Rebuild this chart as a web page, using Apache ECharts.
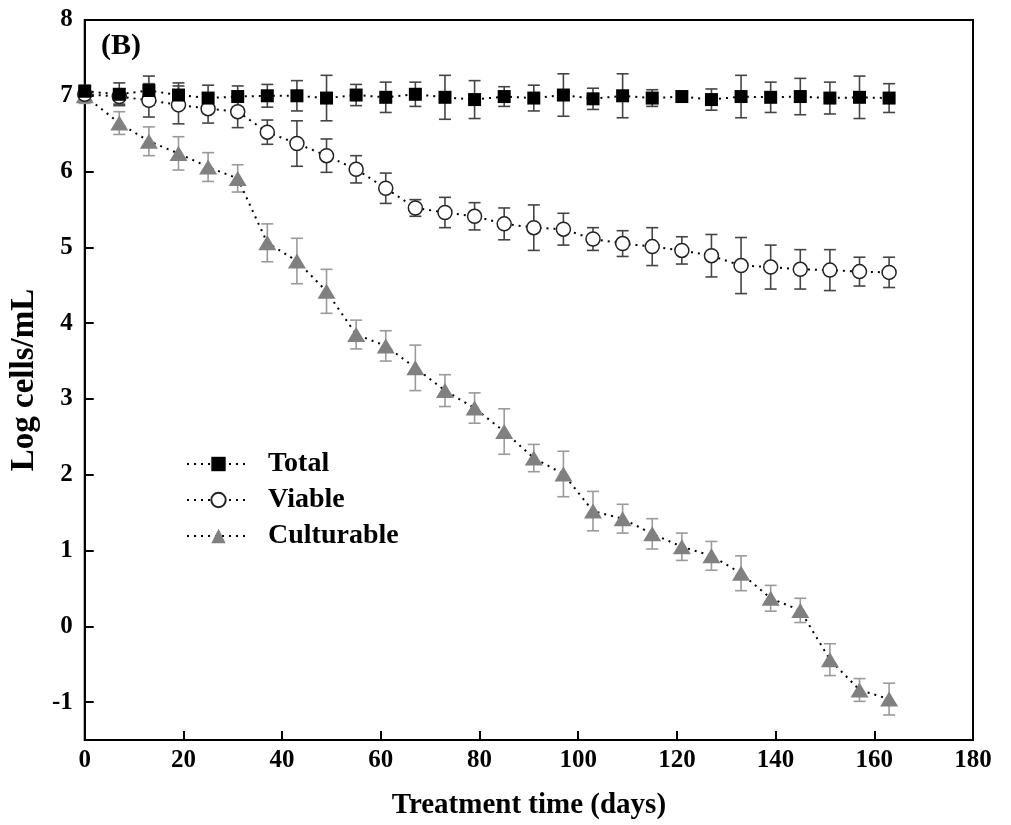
<!DOCTYPE html>
<html>
<head>
<meta charset="utf-8">
<script src="https://cdn.jsdelivr.net/npm/echarts@6/dist/echarts.min.js"></script>
<style>html,body{margin:0;padding:0;background:#fff}#c{width:1011px;height:825px}</style>
</head>
<body>
<div id="c"></div>
<script>
const days = [0,7,13,19,25,31,37,43,49,55,61,67,73,79,85,91,97,103,109,115,121,127,133,139,145,151,157,163];
const total = [7.06,7.02,7.07,7.01,6.97,6.99,7.00,7.00,6.97,7.01,6.98,7.02,6.98,6.95,6.99,6.97,7.01,6.96,7.00,6.97,6.99,6.95,6.99,6.98,6.99,6.97,6.98,6.97];
const totalErr = [0.08,0.15,0.19,0.16,0.17,0.14,0.15,0.20,0.30,0.14,0.20,0.16,0.29,0.25,0.13,0.17,0.28,0.14,0.29,0.11,0.07,0.14,0.28,0.20,0.24,0.21,0.28,0.19];
const viable = [7.02,6.99,6.94,6.88,6.83,6.79,6.52,6.37,6.21,6.03,5.78,5.52,5.46,5.41,5.31,5.26,5.24,5.11,5.05,5.01,4.96,4.89,4.76,4.74,4.71,4.70,4.68,4.67];
const viableErr = [0.08,0.10,0.22,0.25,0.19,0.21,0.16,0.30,0.22,0.18,0.20,0.11,0.20,0.18,0.21,0.30,0.21,0.15,0.17,0.25,0.18,0.28,0.37,0.29,0.26,0.27,0.19,0.20];
const cult = [7.00,6.64,6.40,6.24,6.06,5.91,5.06,4.82,4.42,3.85,3.70,3.41,3.11,2.88,2.57,2.22,2.01,1.52,1.42,1.22,1.05,0.93,0.70,0.37,0.21,-0.44,-0.84,-0.96];
const cultErr = [0.10,0.15,0.19,0.22,0.19,0.18,0.25,0.30,0.29,0.19,0.20,0.30,0.21,0.20,0.30,0.18,0.30,0.26,0.19,0.20,0.18,0.19,0.23,0.17,0.16,0.21,0.15,0.21];
const seriesNames = ['Total','Viable','Culturable'];
const xTicks = [0,20,40,60,80,100,120,140,160,180];
const yLabels = [-1,0,1,2,3,4,5,6,7,8];
const yTicks = [-1,0,1,2,3,4,5,6,7];

const FONT = '"Liberation Serif","Times New Roman",serif';

function errData(vals, errs){
  return days.map((d,i)=>[d, vals[i]-errs[i], vals[i]+errs[i]]);
}
function errSeries(vals, errs, color, z){
  return {
    type:'custom', z:z, silent:true,
    data: errData(vals, errs),
    encode:{x:0, y:[1,2]},
    renderItem: function(params, api){
      const x = api.value(0);
      const lo = api.coord([x, api.value(1)]);
      const hi = api.coord([x, api.value(2)]);
      const w = 6;
      const st = {stroke:color, lineWidth:1.6, fill:null};
      return {type:'group', children:[
        {type:'line', shape:{x1:lo[0],y1:lo[1],x2:hi[0],y2:hi[1]}, style:st},
        {type:'line', shape:{x1:lo[0]-w,y1:lo[1],x2:lo[0]+w,y2:lo[1]}, style:st},
        {type:'line', shape:{x1:hi[0]-w,y1:hi[1],x2:hi[0]+w,y2:hi[1]}, style:st}
      ]};
    }
  };
}
function pts(vals){ return days.map((d,i)=>[d, vals[i]]); }
const dotted = {type:[2,5], width:2, color:'#000'};

const chart = echarts.init(document.getElementById('c'), null, {renderer:'canvas'});
chart.setOption({
  animation:false,
  backgroundColor:'#fff',
  textStyle:{fontFamily:FONT},
  grid:{left:84, right:38, top:20, bottom:85, show:true, borderColor:'#000', borderWidth:2, backgroundColor:'transparent'},
  graphic:[{type:'text', left:101, top:31, z:100, style:{text:'(B)', font:'bold 30px '+FONT, fill:'#000'}}],
  legend:{
    orient:'vertical', left:186, top:450, padding:0, itemWidth:63, itemHeight:18, itemGap:8,
    data:seriesNames,
    textStyle:{fontFamily:FONT, fontWeight:'bold', fontSize:28, lineHeight:28, color:'#000', padding:[0,0,0,13]}
  },
  xAxis:{
    type:'value', min:0, max:180, interval:20,
    name:'Treatment time (days)', nameLocation:'middle', nameGap:51,
    nameTextStyle:{fontFamily:FONT, fontWeight:'bold', fontSize:29, color:'#000'},
    axisLine:{show:true, onZero:false, lineStyle:{color:'#000', width:2}},
    axisTick:{show:true, inside:true, length:9, lineStyle:{color:'#000', width:2}},
    axisLabel:{fontFamily:FONT, fontWeight:'bold', fontSize:25, color:'#000', margin:8,
      customValues: xTicks},
    splitLine:{show:false}
  },
  yAxis:{
    type:'value', min:-1.5, max:8,
    name:'Log cells/mL', nameLocation:'middle', nameGap:40, nameRotate:90,
    nameTextStyle:{fontFamily:FONT, fontWeight:'bold', fontSize:33, color:'#000'},
    axisLine:{show:true, onZero:false, lineStyle:{color:'#000', width:2}},
    axisTick:{show:true, inside:true, length:9, lineStyle:{color:'#000', width:2}, customValues:yTicks},
    axisLabel:{fontFamily:FONT, fontWeight:'bold', fontSize:25, color:'#000', margin:12, customValues:yLabels},
    splitLine:{show:false}
  },
  series:[
    errSeries(cult, cultErr, '#9a9a9a', 2),
    errSeries(viable, viableErr, '#444', 3),
    errSeries(total, totalErr, '#444', 4),
    {name:'Culturable', type:'line', z:5, data:pts(cult), symbol:'triangle', symbolSize:[18,15],
      itemStyle:{color:'#808080', borderWidth:0}, lineStyle:dotted},
    {name:'Viable', type:'line', z:6, data:pts(viable), symbol:'circle', symbolSize:14,
      itemStyle:{color:'#fff', borderColor:'#222', borderWidth:1.5}, lineStyle:dotted},
    {name:'Total', type:'line', z:7, data:pts(total), symbol:'rect', symbolSize:13,
      itemStyle:{color:'#000', borderWidth:0}, lineStyle:dotted}
  ]
});
</script>
</body>
</html>
